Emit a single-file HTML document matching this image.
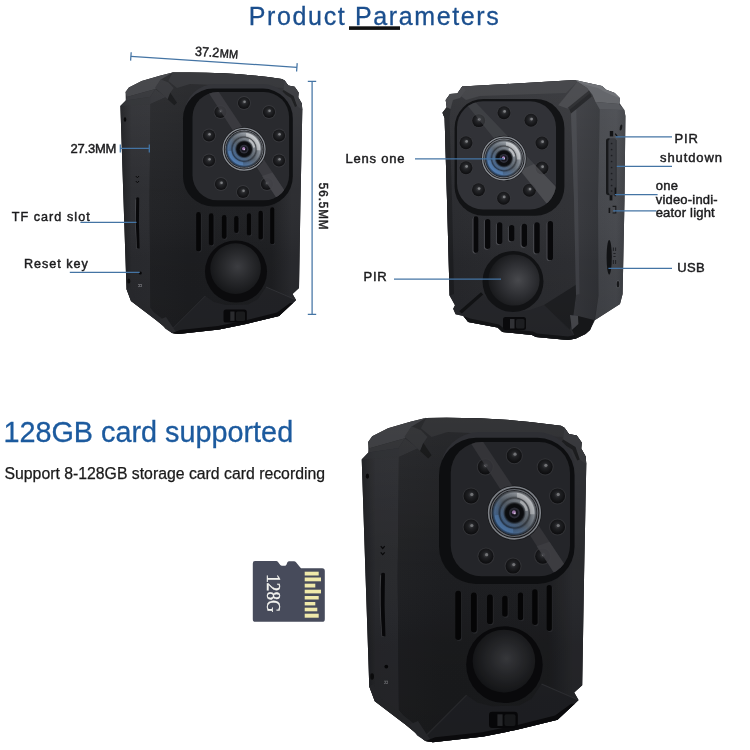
<!DOCTYPE html>
<html lang="en">
<head>
<meta charset="utf-8">
<title>Product Parameters</title>
<style>
html,body{margin:0;padding:0;background:#fff;}
body{width:750px;height:750px;overflow:hidden;position:relative;font-family:"Liberation Sans",sans-serif;}
svg{position:absolute;left:0;top:0;display:block;will-change:transform;}
text{font-family:"Liberation Sans",sans-serif;}
.lbl{font-size:13px;fill:#1b1b1d;stroke:#1b1b1d;stroke-width:0.45px;}
.ln{stroke:#4474a4;stroke-width:1.25;fill:none;}
</style>
</head>
<body>
<svg width="750" height="750" viewBox="0 0 750 750">
<defs>
<linearGradient id="gSideA" x1="0" y1="0" x2="1" y2="0">
 <stop offset="0" stop-color="#1b1c1f"/><stop offset="0.22" stop-color="#2a2b2f"/><stop offset="1" stop-color="#2c2d31"/>
</linearGradient>
<linearGradient id="gFrontA" x1="0" y1="0" x2="1" y2="0">
 <stop offset="0" stop-color="#202124"/><stop offset="0.25" stop-color="#1d1e21"/><stop offset="0.8" stop-color="#1e1f22"/><stop offset="0.93" stop-color="#2a2b2f"/><stop offset="1" stop-color="#2a2b2f"/>
</linearGradient>
<radialGradient id="gBall" cx="0.54" cy="0.46" r="0.62">
 <stop offset="0" stop-color="#3c3d41"/><stop offset="0.45" stop-color="#28292c"/><stop offset="1" stop-color="#111214"/>
</radialGradient>
<radialGradient id="gLed" cx="0.5" cy="0.42" r="0.6">
 <stop offset="0" stop-color="#4a4b4f"/><stop offset="0.35" stop-color="#232427"/><stop offset="1" stop-color="#0c0c0e"/>
</radialGradient>
<clipPath id="clipPanelA"><rect x="192.5" y="92" width="96.6" height="108.3" rx="25" ry="25"/></clipPath>
<g id="led">
 <circle r="6.9" fill="#37383c"/>
 <circle r="6.1" fill="url(#gLed)"/>
 <circle cx="0.6" cy="-1.2" r="1.3" fill="#9a9b9e" opacity="0.7"/>
</g>
<g id="lens">
 <circle r="22.2" fill="#1a1b1e"/>
 <circle r="20.9" fill="none" stroke="#8b8f95" stroke-width="1.3"/>
 <circle r="18.9" fill="none" stroke="#6f737a" stroke-width="1"/>
 <circle r="17.8" fill="url(#gLensBase)"/>
 <circle r="17.8" fill="url(#gLensDark)"/>
 <path d="M2 -16.2 A16.3 16.3 0 0 1 16.2 1 L12.5 1 A12.5 12.5 0 0 0 2 -12.5 Z" fill="#ffffff" opacity="0.4"/>
 <path d="M5 -10.5 A11.5 11.5 0 0 1 11 -2 L9 -1.5 A9 9 0 0 0 4.5 -8.3 Z" fill="#ffffff" opacity="0.45"/>
 <path d="M-16 2 A16.1 16.1 0 0 0 -1 16 L-1 12.8 A12.8 12.8 0 0 1 -12.8 1.5 Z" fill="#6aa0e0" opacity="0.35"/>
 <circle r="7.2" fill="#0d0e11"/>
 <circle r="4.4" fill="#2e2f3a"/>
 <circle r="2.8" fill="#17171f"/>
 <circle cx="-0.4" cy="-0.5" r="1.6" fill="#a880b8"/>
 <circle cx="0.3" cy="0.4" r="0.7" fill="#e8d8f0"/>
</g>
<linearGradient id="gLensBase" x1="0.12" y1="0.88" x2="0.88" y2="0.12">
 <stop offset="0" stop-color="#4573ab"/><stop offset="0.3" stop-color="#5c7ca3"/><stop offset="0.5" stop-color="#6c7885"/><stop offset="0.75" stop-color="#9ca3ab"/><stop offset="1" stop-color="#cdd1d6"/>
</linearGradient>
<radialGradient id="gLensDark" cx="0.5" cy="0.5" r="0.5">
 <stop offset="0" stop-color="#0d0e11" stop-opacity="1"/><stop offset="0.42" stop-color="#0d0e11" stop-opacity="0.92"/><stop offset="0.52" stop-color="#0d0e11" stop-opacity="0.2"/><stop offset="0.6" stop-color="#0d0e11" stop-opacity="0.18"/><stop offset="0.68" stop-color="#0d0e11" stop-opacity="0.6"/><stop offset="0.77" stop-color="#0d0e11" stop-opacity="0.2"/><stop offset="0.9" stop-color="#0d0e11" stop-opacity="0.1"/><stop offset="1" stop-color="#15171b" stop-opacity="0.7"/>
</radialGradient>
<linearGradient id="gLightA" x1="0" y1="0" x2="0" y2="1">
 <stop offset="0" stop-color="#ffffff" stop-opacity="0.075"/><stop offset="0.45" stop-color="#ffffff" stop-opacity="0.02"/><stop offset="0.7" stop-color="#000000" stop-opacity="0.04"/><stop offset="1" stop-color="#000000" stop-opacity="0.1"/>
</linearGradient>
<linearGradient id="gFrontB" x1="0" y1="0" x2="1" y2="0">
 <stop offset="0" stop-color="#27282c"/><stop offset="0.5" stop-color="#2c2d31"/><stop offset="1" stop-color="#2f3034"/>
</linearGradient>
<linearGradient id="gBandB" x1="0" y1="0" x2="1" y2="0">
 <stop offset="0" stop-color="#38393e"/><stop offset="1" stop-color="#303236"/>
</linearGradient>
<linearGradient id="gSideB" x1="0" y1="0" x2="1" y2="0">
 <stop offset="0" stop-color="#424449"/><stop offset="0.7" stop-color="#46484d"/><stop offset="1" stop-color="#3b3d42"/>
</linearGradient>
<radialGradient id="gBallB" cx="0.58" cy="0.5" r="0.62">
 <stop offset="0" stop-color="#48494d"/><stop offset="0.5" stop-color="#2e2f33"/><stop offset="1" stop-color="#151618"/>
</radialGradient>
<clipPath id="clipPanelB"><rect x="457" y="101.3" width="99" height="108.3" rx="26" ry="26"/></clipPath>
<filter id="fDark" x="0" y="0" width="1" height="1" color-interpolation-filters="sRGB"><feComponentTransfer><feFuncR type="linear" slope="0.9"/><feFuncG type="linear" slope="0.9"/><feFuncB type="linear" slope="0.9"/></feComponentTransfer></filter>

</defs>
<rect width="750" height="750" fill="#ffffff"/>

<!-- ===== cameras ===== -->
<g id="camA">
 <!-- whole silhouette -->
 <path id="silA" d="M172.6 72.6 Q230 71.3 281.8 78.9 L284.6 80.4 L288.2 85.6 L294.6 86.8 L298.6 92.4 L298.2 97.2 L301.8 103.6 L302.3 110 L300.5 200 L299 288 L292.5 294 L296 300 L293 303 L279 316 L246 324 L219 329.5 L178 334 L172 333 L156 320 L131 301 L126.5 289 L123.5 200 L120.4 106 L125.8 100.5 L125.6 92 L128.9 87.4 L141.7 81 L159.8 75.7 Z" fill="#1d1e21"/>
 <!-- left side face -->
 <path d="M120.4 106 L126 100.4 L150 97 L155.5 89 L166 97 L150.5 104 L149.5 200 L150.5 308 L172 333 L156 320 L131 301 L126.5 289 L123.5 200 Z" fill="url(#gSideA)"/>
 <!-- front face -->
 <path d="M172.6 72.6 Q230 71.3 281.8 78.9 L284.6 80.4 L288.2 85.6 L294.6 86.8 L298.6 92.4 L298.2 97.2 L301.8 103.6 L302.3 110 L300.5 200 L299 288 L292.5 294 L296 300 L279 316 L246 324 L219 329.5 L178 334 L172 333 L150.5 308 L149.5 200 L150.5 104 L166 97 L155.5 89 L160.9 79.4 Z" fill="url(#gFrontA)"/>
 <!-- top-left chamfer bands -->
 <path d="M125.6 92 L128.9 87.4 L141.7 81 L159.8 75.7 L172.6 72.4 L160.9 79.4 L155.5 89 L126.7 97 Z" fill="#3a3b3f"/>
 <path d="M126.7 97 L155.5 89 L150 97 L126 100.4 L125.8 100.5 Z" fill="#2d2e32"/>
 <path d="M120.4 106 L125.8 100.5 L150 97 L150.5 104 Z" fill="#2a2b2f" opacity="0.6"/>
 <!-- corner bracket top-left -->
 <path d="M160.7 79.3 L168.5 82.5 L173.7 88 L170.3 92.7 L167.7 99.3 L155 87.8 Z" fill="#2c2d31"/>
 <path d="M167.7 99.3 L170.3 92.7 L177 102.7 L174.3 105.3 Z" fill="#0e0f11"/>
 <!-- top strip of front (lighter) -->
 <path d="M172.6 72.6 Q230 71.3 281.8 78.9 L284.6 80.4 L288.2 85.6 L283 88 L190 84 L177 88 L168.3 81 Z" fill="#2a2b2f"/>
 <!-- top-right corner bracket -->
 <path d="M284.6 80.4 L288.2 85.6 L294.6 86.8 L298.6 92.4 L298.2 97.2 L301.8 103.6 L302.3 110 L297 106 L293.5 96 L283.5 90 Z" fill="#323337"/>
 <path d="M283.5 90 L293.5 96 L297 106 L295 107 L291 98 L282 92.5 Z" fill="#111214"/>
 <!-- lower facets -->
 <path d="M173.3 328 L205.3 296 L214 302 L226 305 L248 304.5 L258 299 L266 287 L296 300 L279 316 L246 324 L219 329.5 L178 334 Z" fill="#232428"/>
 <path d="M266 287 L295 299.5" stroke="#34353a" stroke-width="0.9" fill="none"/>
 <path d="M205.3 296 L173.3 328" stroke="#303135" stroke-width="0.9" fill="none"/>
 <path d="M126.5 289 L131 301 L156 320 L172 333 L173.3 328 L160 317 L135 298 L130 287 Z" fill="#2a2b2f"/>
 <path d="M158.7 320 L165.3 328.7 L172 333 L178 334 L173.3 328 L166 317 Z" fill="#2e2f33"/>
 <!-- bottom lip -->
 <path d="M172 333 L178 334 L219 329.5 L246 324 L279 316 L293 303 L290 303 L277 312.5 L245 320.5 L218 326 L180 330 Z" fill="#0d0d0f"/>
 <!-- lighting overlay -->
 <path d="M172.6 72.6 Q230 71.3 281.8 78.9 L284.6 80.4 L288.2 85.6 L294.6 86.8 L298.6 92.4 L298.2 97.2 L301.8 103.6 L302.3 110 L300.5 200 L299 288 L292.5 294 L296 300 L293 303 L279 316 L246 324 L219 329.5 L178 334 L172 333 L156 320 L131 301 L126.5 289 L123.5 200 L120.4 106 L125.8 100.5 L125.6 92 L128.9 87.4 L141.7 81 L159.8 75.7 Z" fill="url(#gLightA)"/>
 <!-- lens panel -->
 <rect x="184.5" y="84" width="108.5" height="60" rx="31" ry="30" fill="#34353a"/>
 <rect x="183" y="88.6" width="109.8" height="117.8" rx="30" ry="30" fill="#0f1012"/>
 <rect x="192.5" y="92" width="96.6" height="108.3" rx="25" ry="25" fill="#292a2e"/>
 
 <!-- LEDs -->
 <g id="ledsA">
  <use href="#led" x="244" y="103"/>
  <use href="#led" x="269" y="112"/>
  <use href="#led" x="279" y="135.5"/>
  <use href="#led" x="279" y="160.5"/>
  <use href="#led" x="267" y="184"/>
  <use href="#led" x="243" y="192"/>
  <use href="#led" x="221" y="184"/>
  <use href="#led" x="209" y="160.5"/>
  <use href="#led" x="209" y="135.5"/>
  <use href="#led" x="220.5" y="112"/>
 </g>
 <g clip-path="url(#clipPanelA)">
  <path d="M203 84 L213.5 84 L297.5 210 L284.3 210 Z" fill="#3e3f44" opacity="0.8"/>
  <path d="M262 176 L272.5 172.5 L297.5 210 L284.3 210 Z" fill="#4a4b50" opacity="0.55"/>
 </g>
 <!-- lens -->
 <use href="#lens" x="244.1" y="149.2"/>
 <!-- grille -->
 <g fill="#2b2c30">
  <rect x="196.9" y="212.5" width="4.7" height="40.0" rx="2.4"/>
  <rect x="209.6" y="213.8" width="4.7" height="32.7" rx="2.4"/>
  <rect x="222.6" y="215.5" width="4.7" height="24.3" rx="2.4"/>
  <rect x="234.9" y="216.5" width="4.4" height="17.3" rx="2.2"/>
  <rect x="247.6" y="213.8" width="4.3" height="22.7" rx="2.2"/>
  <rect x="259.2" y="211.2" width="4.4" height="29.3" rx="2.2"/>
  <rect x="270.9" y="207.8" width="4.2" height="37.4" rx="2.1"/>
 </g>
 <g fill="#060607">
  <rect x="196.2" y="212.0" width="4.7" height="39.6" rx="2.4"/>
  <rect x="208.9" y="213.3" width="4.7" height="32.3" rx="2.4"/>
  <rect x="221.9" y="215.0" width="4.7" height="23.9" rx="2.4"/>
  <rect x="234.2" y="216.0" width="4.4" height="16.9" rx="2.2"/>
  <rect x="246.9" y="213.3" width="4.3" height="22.3" rx="2.2"/>
  <rect x="258.5" y="210.7" width="4.4" height="28.9" rx="2.2"/>
  <rect x="270.2" y="207.3" width="4.2" height="37.0" rx="2.1"/>
 </g>
 <!-- PIR dome -->
 <circle cx="236" cy="271.5" r="31" fill="#0b0b0d"/>
 <circle cx="235.6" cy="268.6" r="25.3" fill="url(#gBall)"/>
 <!-- bottom tab -->
 <rect x="223.5" y="309.4" width="23.3" height="13.2" rx="2.6" fill="#08080a"/>
 <rect x="230.3" y="311.5" width="4.2" height="9.4" fill="#2a2b2e"/>
 <rect x="236" y="311.5" width="9" height="9.4" rx="1.5" fill="#1a1b1d"/>
 <!-- side details -->
 <ellipse cx="125" cy="119.5" rx="1.3" ry="2.2" fill="#09090a"/>
 <path d="M135.2 199.5 Q134.2 224 136.6 249 L138.2 249 Q136.4 224 137.2 199.5 Z" fill="#45464a"/>
 <path d="M136.2 198 Q135 223 137 248.5 L139.6 248.5 Q138.4 223 139.2 198 Q137.7 196.6 136.2 198 Z" fill="#08080a"/>
 <path d="M135.8 176 l1.6 1.8 l1.6 -1.8 M135.8 181 l1.6 1.8 l1.6 -1.8" stroke="#0a0a0b" stroke-width="1" fill="none"/>
 <circle cx="140.3" cy="273" r="1.5" fill="#070708"/>
 <ellipse cx="128.8" cy="281" rx="1.5" ry="2.6" fill="#0c0c0d"/>
 <text transform="translate(138.2 284) rotate(90)" font-size="4.6" fill="#707176" style="font-weight:bold">R</text>
</g>

<g id="camB">
 <!-- silhouette -->
 <path d="M462.2 86.5 L575.3 80.1 L587 82.8 L601.9 86 L606.2 89.7 L614.7 92.9 L620 98.3 L619.5 103 L624.3 110 L625.4 116 L624.5 200 L622.6 294 L620 304 L595 320 L590 330 L585.5 334 L576 338.5 L568 340 L536 337 L532 335 L502.4 332 L497.6 327.6 L468.2 322 L463.4 316 L455.6 314.2 L453.2 308.8 L455 305.2 L449.6 295.6 L447 200 L444.6 118 L442.5 112.7 L446.7 107.3 L445.7 99.9 L450 94 L457.4 93.5 Z" fill="#2d2e32"/>
 <!-- front face -->
 <path d="M462.2 86.5 L575.3 80.1 L577.4 81.7 L590.2 93 L571 112.7 L574 200 L576 295 L573 318 L576 338.5 L568 340 L536 337 L532 335 L502.4 332 L497.6 327.6 L468.2 322 L463.4 316 L455.6 314.2 L453.2 308.8 L455 305.2 L449.6 295.6 L447 200 L444.6 118 L442.5 112.7 L446.7 107.3 L445.7 99.9 L450 94 L457.4 93.5 Z" fill="url(#gFrontB)"/>
 <!-- top strip of front face (lighter) -->
 <path d="M462.2 86.5 L575.3 80.1 L577.4 81.7 L566 93 L480 96 L466 100 L457.4 93.5 Z" fill="#393a3e"/>
 <!-- left thin edge -->
 <path d="M444.6 118 L442.5 112.7 L446.7 107.3 L450.5 109 L449.5 118 L452 200 L454 294 L449.6 295.6 L447 200 Z" fill="#1d1e21"/>
 <!-- top-left notch pieces -->
 <path d="M446.7 107.3 L445.7 99.9 L450 94 L457.4 93.5 L462.2 86.5 L466 90 L460 98 L453 100 L450.5 109 Z" fill="#3d3e42"/>
 <!-- chamfer band -->
 <path d="M571 112.7 L591.3 95.6 L595.5 102 L599.8 109.5 L598 200 L598.5 296 L594 320 L590 330 L585.5 334 L576 338.5 L573 318 L576 295 L574 200 Z" fill="url(#gBandB)"/>
 <path d="M571 112.7 L576.3 108.3 L578 200 L579.5 294 L576 295 L574 200 Z" fill="#46474c" opacity="0.75"/>
 <!-- side face -->
 <path d="M599.8 109.5 L624.3 110 L625.4 116 L624.5 200 L622.6 294 L620 304 L595 320 L598.5 296 L598 200 Z" fill="url(#gSideB)"/>
 <!-- top of side: light bands -->
 <path d="M577.4 81.7 L587 82.8 L601.9 86 L606.2 89.7 L614.7 92.9 L620 98.3 L619.5 103 L619 104.1 L595.5 102 L592.3 94.5 L587 88.1 Z" fill="#5a5c61"/>
 <path d="M575.3 80.1 L587 82.8 L601.9 86 L606.2 89.7 L614.7 92.9 L620 98.3 L612 95 L604 91.5 L598 88 L586 85 L577.4 81.7 Z" fill="#66686d"/>
 <path d="M595.5 102 L619 104.1 L624.3 110 L599.8 109.5 Z" fill="#4c4e53"/>
 <!-- top-right bracket on front -->
 <path d="M577.4 81.7 L587 88.1 L590.2 93 L570 109.5 L558.2 105.2 Z" fill="#404145"/>
 <path d="M568.8 108 L589.5 91.5 L591.8 96.5 L571 113.5 Z" fill="#1a1b1e"/>
 <path d="M567.5 108 L589 90.5 L590.2 93 L570 109.5 Z" fill="#232427"/>
 <!-- lower facets -->
 <path d="M460.4 312.4 L482 293.2 L486 297 L497 307.5 L514 312.5 L530 310 L544 305 L570 330 L576 338.5 L568 340 L536 337 L532 335 L502.4 332 L497.6 327.6 L468.2 322 L463.4 316 Z" fill="#27282c"/>
 <path d="M459.2 311.2 L481 292.2 L483.2 294.4 L461.8 313.6 Z" fill="#121315"/>
 <path d="M544 305 L570 330 L573 318 L576 295 L575.6 285 Z" fill="#1f2023"/>
 <!-- bottom lip -->
 <path d="M463.4 316 L468.2 322 L497.6 327.6 L502.4 332 L532 335 L536 337 L568 340 L576 338.5 L575 335 L568 336.5 L537 333.5 L533 331.5 L504 328.6 L499 324.4 L470 318.6 Z" fill="#141517"/>
 <!-- foot bottom right -->
 <path d="M570 315 L578 316 L578.5 324 L572 330 Z" fill="#4a4b50"/>
 <path d="M578 316 L590 319 L594 320 L590 330 L585.5 334 L576 338.5 L572 330 L578.5 324 Z" fill="#18191b"/>
 <!-- lighting -->
 <path d="M462.2 86.5 L575.3 80.1 L587 82.8 L601.9 86 L606.2 89.7 L614.7 92.9 L620 98.3 L619.5 103 L624.3 110 L625.4 116 L624.5 200 L622.6 294 L620 304 L595 320 L590 330 L585.5 334 L576 338.5 L568 340 L536 337 L532 335 L502.4 332 L497.6 327.6 L468.2 322 L463.4 316 L455.6 314.2 L453.2 308.8 L455 305.2 L449.6 295.6 L447 200 L444.6 118 L442.5 112.7 L446.7 107.3 L445.7 99.9 L450 94 L457.4 93.5 Z" fill="url(#gLightA)"/>
 <!-- lens panel -->
 <rect x="454.6" y="98.9" width="109.8" height="116.9" rx="29" ry="29" fill="#121315"/>
 <rect x="457" y="101.3" width="99" height="108.3" rx="26" ry="26" fill="#313237"/>
 <g>
  <use href="#led" transform="translate(504 112.7) scale(1.06)"/>
  <use href="#led" transform="translate(531 120.3) scale(1.06)"/>
  <use href="#led" transform="translate(542 143) scale(1.06)"/>
  <use href="#led" transform="translate(542 168) scale(1.06)"/>
  <use href="#led" transform="translate(529.4 190.3) scale(1.06)"/>
  <use href="#led" transform="translate(503.6 198.2) scale(1.06)"/>
  <use href="#led" transform="translate(478.5 189.8) scale(1.06)"/>
  <use href="#led" transform="translate(466 167.7) scale(1.06)"/>
  <use href="#led" transform="translate(466 142.7) scale(1.06)"/>
  <use href="#led" transform="translate(478.7 120.6) scale(1.06)"/>
 </g>
 <g clip-path="url(#clipPanelB)">
  <path d="M461.4 98 L471.4 98 L581.7 214 L555 214 Z" fill="#4c4d52" opacity="0.5"/>
  <path d="M520 170 L534 164 L581.7 214 L555 214 Z" fill="#5a5b60" opacity="0.45"/>
 </g>
 <use href="#lens" transform="translate(503.9 158.4) scale(1.02)"/>
 <!-- grille -->
 <g fill="#4a4b50">
  <rect x="472.5" y="216.9" width="4.8" height="36.8" rx="2.4"/>
  <rect x="483.9" y="219.6" width="5.4" height="30.1" rx="2.7"/>
  <rect x="495.9" y="222.9" width="5.4" height="22.1" rx="2.7"/>
  <rect x="507.9" y="225.6" width="5.4" height="16.7" rx="2.7"/>
  <rect x="520.5" y="224.3" width="5.5" height="23.4" rx="2.8"/>
  <rect x="533.2" y="222.9" width="5.5" height="31.4" rx="2.8"/>
  <rect x="546.5" y="221.6" width="5.5" height="39.4" rx="2.8"/>
 </g>
 <g fill="#08080a">
  <rect x="473.5" y="216.3" width="4.8" height="36.6" rx="2.4"/>
  <rect x="484.9" y="219.0" width="5.4" height="29.9" rx="2.7"/>
  <rect x="496.9" y="222.3" width="5.4" height="21.9" rx="2.7"/>
  <rect x="508.9" y="225.0" width="5.4" height="16.5" rx="2.7"/>
  <rect x="521.5" y="223.7" width="5.5" height="23.2" rx="2.8"/>
  <rect x="534.2" y="222.3" width="5.5" height="31.2" rx="2.8"/>
  <rect x="547.5" y="221.0" width="5.5" height="39.2" rx="2.8"/>
 </g>
 <!-- PIR dome -->
 <circle cx="513" cy="281.5" r="30.5" fill="#111214"/>
 <circle cx="514" cy="280" r="25.6" fill="url(#gBallB)"/>
 <!-- tab -->
 <rect x="503" y="317" width="23" height="13" rx="2.5" fill="#0a0a0c"/>
 <rect x="510" y="319" width="4.5" height="9.5" fill="#303135"/>
 <rect x="516" y="319" width="8.5" height="9.5" rx="1.5" fill="#1d1e21"/>
 <!-- side details -->
 <rect x="606" y="138.2" width="10.4" height="57" rx="2.2" fill="#393b40"/>
 <path d="M609.5 138.2 Q606 138.2 606 141 L606 192.5 Q606 195.2 609.5 195.2 L609.5 194 Q608.4 193.6 608.4 192 L608.4 141.5 Q608.4 139.8 609.5 139.4 Z" fill="#17181a"/>
 <path d="M616.2 140 V193.5" stroke="#2b2d31" stroke-width="0.7" fill="none"/>
 <g fill="#1c1d20"><circle cx="611.6" cy="143.5" r="0.85"/><circle cx="611.6" cy="149.5" r="0.85"/><circle cx="611.6" cy="155.5" r="0.85"/><circle cx="611.6" cy="161.5" r="0.85"/><circle cx="611.6" cy="167.5" r="0.85"/><circle cx="611.6" cy="173.5" r="0.85"/><circle cx="611.6" cy="179.5" r="0.85"/><circle cx="611.6" cy="185.5" r="0.85"/><circle cx="611.6" cy="191.0" r="0.85"/></g>
 <rect x="609.8" y="131" width="3.4" height="5.4" fill="#121315"/>
 <path d="M615.2 133.6 l2.2 3" stroke="#121315" stroke-width="1.2"/>
 <rect x="609.6" y="195.2" width="2.8" height="5.2" fill="#121315"/>
 <rect x="614.6" y="187.6" width="1.5" height="8.6" fill="#101113"/>
 <rect x="608.6" y="207.8" width="1.6" height="5.2" fill="#141517"/>
 <path d="M612.6 206.4 h3.2 v6.6 h-3.2" stroke="#18191b" stroke-width="1.1" fill="none"/>
 <ellipse cx="609.2" cy="257.3" rx="2.6" ry="17.4" fill="#111214"/>
 <path d="M613.4 247.5 v3.5 M615.6 247.5 v3.5 M613.4 253.5 h2.2 M613.4 256.5 h2.2 M613.4 260 v4 M615.6 260 v4" stroke="#1c1d20" stroke-width="0.9" fill="none"/>
 <ellipse cx="621" cy="127.5" rx="1.2" ry="3" fill="#17181a" transform="rotate(12 621 127.5)"/>
 <ellipse cx="618" cy="284.2" rx="1.9" ry="4" fill="#54565b"/><ellipse cx="618" cy="284.2" rx="1.3" ry="3.3" fill="#17181a"/>
</g>

<use href="#camA" transform="translate(213.1 327.9) scale(1.2345 1.2404)" filter="url(#fDark)"/>

<!-- ===== sd card ===== -->
<g id="sdcard">
 <path d="M255 561 L276.2 561 Q277.4 561 278 562 L280.3 565 Q280.9 565.8 282 565.8 L285 565.8 Q286 565.8 286.4 564.8 L287.4 562.3 Q288 561.3 289.2 561.3 L294 561.3 Q295.2 561.3 296 562.2 L300.3 567.4 Q301 568.3 302.2 568.3 L322.2 568.3 Q324.8 568.3 324.8 570.9 L324.8 619.2 Q324.8 621.8 322.2 621.8 L255.4 621.8 Q252.8 621.8 252.8 619.2 L252.8 563.4 Q252.8 561 255 561 Z" fill="#474b5b"/>
 <g fill="#efe9aa">
  <rect x="304.7" y="571.7" width="14" height="3.8"/>
  <rect x="304.7" y="577.5" width="16.3" height="3.8"/>
  <rect x="304.7" y="583.7" width="10.6" height="3.8"/>
  <rect x="304.7" y="589.7" width="16.3" height="3.7"/>
  <rect x="304.7" y="596" width="14" height="3.5"/>
  <rect x="304.7" y="602" width="10.6" height="3.4"/>
  <rect x="304.7" y="607.7" width="12.6" height="3.6"/>
  <rect x="304.7" y="613.7" width="14" height="4"/>
 </g>
 <text id="tsd" transform="translate(267 574.3) rotate(90)" font-size="18.5" fill="#f3f3ef" stroke="#f3f3ef" stroke-width="0.35" textLength="38" lengthAdjust="spacingAndGlyphs" style="font-family:'Liberation Serif',serif">128G</text>
</g>


<!-- ===== title ===== -->
<text id="title" x="248.8" y="24.6" font-size="25" fill="#1b4f8e" stroke="#1b4f8e" stroke-width="0.3" textLength="250" lengthAdjust="spacing">Product Parameters</text>
<rect x="349" y="26.3" width="51" height="3.6" fill="#111"/>

<!-- ===== dimension lines ===== -->
<g class="ln">
<path d="M130.9 56.4L296.9 67.3"/>
<path d="M131.2 52.2L130.6 60.6M297.2 63.1L296.6 71.5"/>
<path d="M312.1 81.3V314.4M307.8 81.3H316.2M307.8 314.4H316.2"/>
<path d="M120.3 148.4H149.3M120.3 144.4V152.4M149.3 144.4V152.4"/>
<path d="M80.4 222.4H136.5"/>
<path d="M69.8 272.3H139.7"/>
<path d="M415 158.8H504"/>
<path d="M394 279.2H501"/>
<path d="M615.6 136.9H672"/>
<path d="M616.8 166.4H672"/>
<path d="M614.9 194.7H657.6"/>
<path d="M613.2 210.8H656.4"/>
<path d="M608.4 268.4H672"/>
</g>

<!-- ===== labels ===== -->
<g class="lbl">
<text id="t372" transform="translate(194.8 55.7) rotate(3.76) scale(0.93 1)" font-size="13.4">37.2<tspan font-size="11.8" dx="0.6">MM</tspan></text>
<text id="t273" x="70.4" y="153" font-size="13" textLength="46" lengthAdjust="spacing">27.3MM</text>
<text id="t565" transform="translate(318.7 182.8) rotate(90) scale(0.9 1)" font-size="13" textLength="52" lengthAdjust="spacing" style="stroke-width:0.5px">56.5MM</text>
<text id="ttf" x="11.7" y="220.7" font-size="12.6" textLength="78" lengthAdjust="spacing">TF card slot</text>
<text id="treset" x="23.9" y="267.6" font-size="12.6" textLength="64" lengthAdjust="spacing">Reset key</text>
<text id="tlens" x="345.4" y="162.9" font-size="13" textLength="59" lengthAdjust="spacing">Lens one</text>
<text id="tpirl" x="363.5" y="281.4" font-size="13" textLength="23.2" lengthAdjust="spacing">PIR</text>
<text id="tpirr" x="674.4" y="142.9" font-size="13" textLength="23.6" lengthAdjust="spacing">PIR</text>
<text id="tshut" x="660" y="162.3" font-size="13" textLength="62" lengthAdjust="spacing">shutdown</text>
<text id="tone" x="655.7" y="190.4" font-size="13" textLength="22.3" lengthAdjust="spacing">one</text>
<text id="tvid" x="655.7" y="204.3" font-size="13" textLength="62" lengthAdjust="spacing">video-indi-</text>
<text id="teat" x="655.7" y="217.3" font-size="13" textLength="59" lengthAdjust="spacing">eator light</text>
<text id="tusb" x="677.3" y="272.2" font-size="13" textLength="27.3" lengthAdjust="spacing">USB</text>
</g>

<!-- ===== bottom-left copy ===== -->
<text id="t128" x="3.4" y="442.4" font-size="28.8" fill="#1c5a9e" stroke="#1c5a9e" stroke-width="0.3">128GB card supported</text>
<text id="tsup" x="4.5" y="479" font-size="15.8" fill="#1a1a1a" stroke="#1a1a1a" stroke-width="0.25">Support 8-128GB storage card card recording</text>
</svg>
</body>
</html>
